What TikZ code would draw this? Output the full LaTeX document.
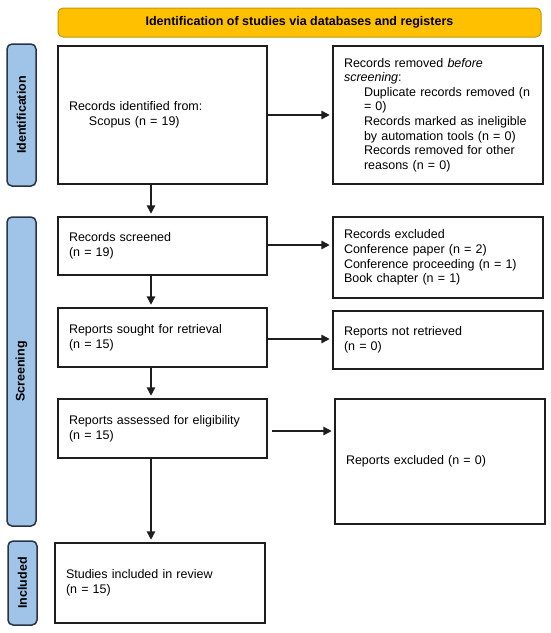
\documentclass[tikz,border=0pt]{standalone}
\usepackage{fontspec}
\setmainfont{Liberation Sans}
\usetikzlibrary{arrows.meta}
\definecolor{bannerfill}{RGB}{255,192,0}
\definecolor{bannerdraw}{RGB}{200,150,0}
\definecolor{sidefill}{RGB}{160,196,232}
\definecolor{sidedraw}{RGB}{40,52,70}
\definecolor{boxdraw}{RGB}{30,30,30}
\begin{document}
\begin{tikzpicture}[x=1pt,y=-1pt,
  every node/.style={font=\fontsize{12.5}{14.6}\selectfont, text=black},
  banner/.style={draw=bannerdraw, fill=bannerfill, line width=1pt, rounded corners=5pt,
    font=\fontsize{12.5}{14.6}\selectfont\bfseries, inner sep=0pt},
  side/.style={draw=sidedraw, fill=sidefill, line width=1.5pt, rounded corners=5pt,
    rotate=90, font=\fontsize{12.5}{14.6}\selectfont\bfseries, inner sep=0pt,
    minimum height=29pt},
  flowbox/.style={draw=boxdraw, line width=1.5pt, align=left, inner xsep=11pt,
    inner ysep=0pt},
  arr/.style={draw=boxdraw, line width=1.5pt, -{Triangle[length=8.5pt,width=8.5pt]},
    shorten >=2.5pt}
]
\useasboundingbox (0,0) rectangle (550,633);
% banner
\node[banner, minimum width=483pt, minimum height=29pt] (ban) at (299.5,22.5)
  {Identification of studies via databases and registers};
% side labels
\node[side, minimum width=142pt] (sid) at (21.5,115) {Identification};
\node[side, minimum width=309pt] (ssc) at (21.5,371.5) {Screening};
\node[side, minimum width=84pt] (sin) at (22.5,583) {Included};
% boxes
\node[flowbox, text width=187pt, minimum height=138pt] (id) at (162.5,115)
  {Records identified from:\\\hspace*{20pt}Scopus (n = 19)};
\node[flowbox, text width=188pt, minimum height=138pt] (rem) at (438,115)
  {Records removed \textit{before}\\\textit{screening}:\\
   \hspace*{20pt}Duplicate records removed (n\\
   \hspace*{20pt}= 0)\\
   \hspace*{20pt}Records marked as ineligible\\
   \hspace*{20pt}by automation tools (n = 0)\\
   \hspace*{20pt}Records removed for other\\
   \hspace*{20pt}reasons (n = 0)};
\node[flowbox, text width=187pt, minimum height=58pt] (scr) at (162.5,246)
  {Records screened\\(n = 19)};
\node[flowbox, text width=188pt, minimum height=81pt] (exc) at (438,257.5)
  {Records excluded\\Conference paper (n = 2)\\Conference proceeding (n = 1)\\Book chapter (n = 1)};
\node[flowbox, text width=187pt, minimum height=59pt] (sou) at (162.5,337.5)
  {Reports sought for retrieval\\(n = 15)};
\node[flowbox, text width=188pt, minimum height=58pt] (nr) at (438,340)
  {Reports not retrieved\\(n = 0)};
\node[flowbox, text width=187pt, minimum height=59pt] (ass) at (162.5,428.5)
  {Reports assessed for eligibility\\(n = 15)};
\node[flowbox, text width=188pt, minimum height=125pt] (rex) at (440,461.5)
  {Reports excluded (n = 0)};
\node[flowbox, text width=188pt, minimum height=80pt] (inc) at (160,583)
  {Studies included in review\\(n = 15)};
% connectors
\coordinate (ax) at (151,0);
\draw[arr] (id.east) -- (rem.west);
\draw[arr] ([yshift=1pt]scr.east) -- ([yshift=1pt]scr.east -| exc.west);
\draw[arr] ([yshift=-1.5pt]sou.east) -- ([yshift=-1.5pt]sou.east -| nr.west);
\draw[arr] ([xshift=4pt,yshift=-2.5pt]ass.east) -- ([yshift=-2.5pt]ass.east -| rex.west);
\draw[arr] (id.south -| ax) -- (scr.north -| ax);
\draw[arr] (scr.south -| ax) -- (sou.north -| ax);
\draw[arr] (sou.south -| ax) -- (ass.north -| ax);
\draw[arr] (ass.south -| ax) -- (inc.north -| ax);
\end{tikzpicture}
\end{document}
